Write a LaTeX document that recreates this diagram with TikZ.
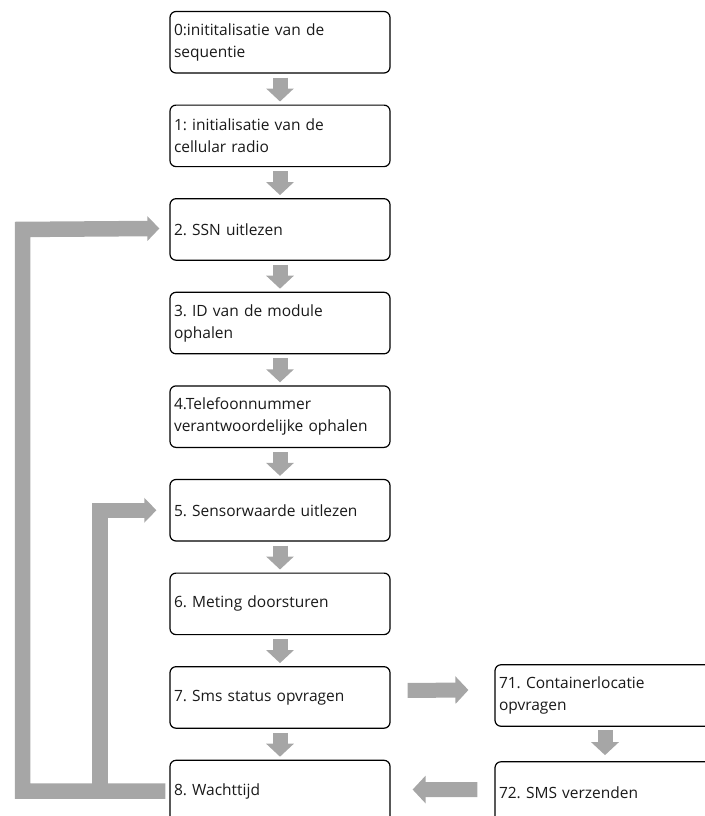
\documentclass[tikz,border=0pt]{standalone}
\usepackage{fontspec}
\setmainfont{Open Sans}
\frenchspacing
\usetikzlibrary{calc,arrows.meta}
\definecolor{arrowgray}{HTML}{A6A6A6}
\definecolor{textgray}{HTML}{1A1A1A}
\begin{document}
\begin{tikzpicture}[x=1pt,y=-1pt,
  box/.style={draw=black, line width=1.2pt, rounded corners=6pt, fill=white,
    minimum width=220pt, minimum height=61.5pt, text width=212pt,
    inner xsep=4pt, inner ysep=0pt, align=left, text=textgray,
    font=\fontsize{15.5}{22}\selectfont},
  flow/.style={draw=arrowgray, line width=15pt, line join=miter,
    -{Triangle[width=27pt,length=13pt]}},
  feed/.style={draw=arrowgray, line width=15.5pt, line join=miter,
    -{Triangle[width=24pt,length=12pt]}}
]
\useasboundingbox (0,0) rectangle (704,816);
% main column
\node[box] (b0) at (280, 42.25)  {0:inititalisatie van de\\sequentie};
\node[box] (b1) at (280, 135.85) {1: initialisatie van de\\cellular radio};
\node[box] (b2) at (280, 229.45) {2. SSN uitlezen};
\node[box] (b3) at (280, 323.05) {3. ID van de module\\ophalen};
\node[box] (b4) at (280, 416.65) {4.Telefoonnummer\\verantwoordelijke ophalen};
\node[box] (b5) at (280, 510.25) {5. Sensorwaarde uitlezen};
\node[box] (b6) at (280, 603.85) {6. Meting doorsturen};
\node[box] (b7) at (280, 697.45) {7. Sms status opvragen};
\node[box] (b8) at (280, 791.05) {8. Wachttijd};
% right column
\node[box] (b71) at (605, 695.5) {71. Containerlocatie\\opvragen};
\node[box] (b72) at (605, 792.5) {72. SMS verzenden};
% down arrows
\foreach \a/\b in {b0/b1,b1/b2,b2/b3,b3/b4,b4/b5,b5/b6,b6/b7,b7/b8}{
  \draw[flow] ($(\a.south)+(0,4)$) -- ($(\b.north)+(0,-3)$);
}
\draw[flow] ($(b71.south)+(0,3)$) -- ($(b72.north)+(0,-6)$);
% side arrows
\draw[flow] ($(b7.east)+(17,-7)$) -- ($(b71.west)+(-26,-5.5)$);
\draw[flow] ($(b72.west)+(-17,-3)$) -- ($(b8.east)+(22,-1.5)$);
% feedback loops
\coordinate (ol) at (22.5,0);
\coordinate (il) at (100,0);
\draw[feed] ($(b8.west)+(-4,0)$) -- (ol |- b8.west) -- (ol |- b2.west) -- ($(b2.west)+(-10,-1)$);
\draw[feed] (il |- b8.west) -- (il |- b5.west) -- ($(b5.west)+(-13,0)$);
\end{tikzpicture}
\end{document}
